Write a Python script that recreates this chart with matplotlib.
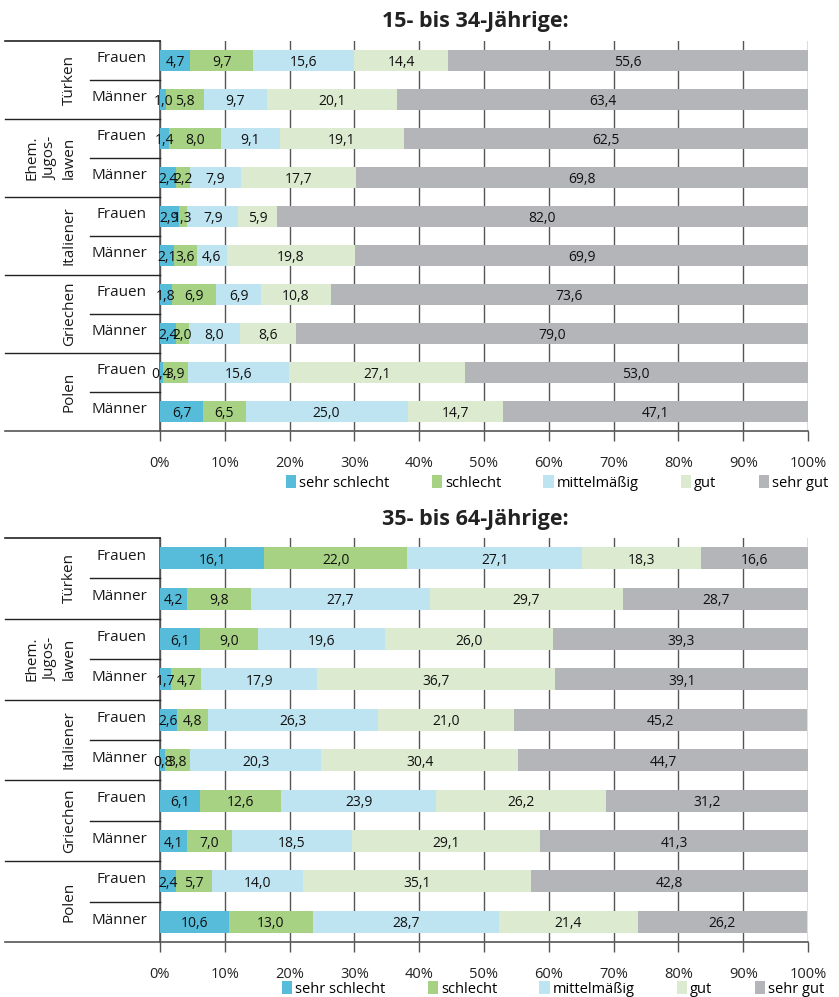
import matplotlib
matplotlib.use("Agg")
import matplotlib.pyplot as plt
import numpy as np
from matplotlib.patches import Patch
from matplotlib.lines import Line2D
from matplotlib.transforms import blended_transform_factory

plt.rcParams['font.family'] = ['Open Sans', 'DejaVu Sans']

groups = ["Türken", "Ehem.\nJugos-\nlawen", "Italiener", "Griechen", "Polen"]
sexes = ["Frauen", "Männer"]
categories = ["sehr schlecht", "schlecht", "mittelmäßig", "gut", "sehr gut"]
colors = ["#56BCD9", "#A8D283", "#BEE3F1", "#DCEBD0", "#B4B5B8"]

# rows: Türken F, Türken M, Jugo F, Jugo M, Ital F, Ital M, Griech F, Griech M, Polen F, Polen M
young = {
    "sehr schlecht": [4.7, 1.0, 1.4, 2.4, 2.9, 2.1, 1.8, 2.4, 0.4, 6.7],
    "schlecht":      [9.7, 5.8, 8.0, 2.2, 1.3, 3.6, 6.9, 2.0, 3.9, 6.5],
    "mittelmäßig":   [15.6, 9.7, 9.1, 7.9, 7.9, 4.6, 6.9, 8.0, 15.6, 25.0],
    "gut":           [14.4, 20.1, 19.1, 17.7, 5.9, 19.8, 10.8, 8.6, 27.1, 14.7],
    "sehr gut":      [55.6, 63.4, 62.5, 69.8, 82.0, 69.9, 73.6, 79.0, 53.0, 47.1],
}
old = {
    "sehr schlecht": [16.1, 4.2, 6.1, 1.7, 2.6, 0.8, 6.1, 4.1, 2.4, 10.6],
    "schlecht":      [22.0, 9.8, 9.0, 4.7, 4.8, 3.8, 12.6, 7.0, 5.7, 13.0],
    "mittelmäßig":   [27.1, 27.7, 19.6, 17.9, 26.3, 20.3, 23.9, 18.5, 14.0, 28.7],
    "gut":           [18.3, 29.7, 26.0, 36.7, 21.0, 30.4, 26.2, 29.1, 35.1, 21.4],
    "sehr gut":      [16.6, 28.7, 39.3, 39.1, 45.2, 44.7, 31.2, 41.3, 42.8, 26.2],
}
titles = ["15- bis 34-Jährige:", "35- bis 64-Jährige:"]
xticks = np.arange(0, 101, 10)
xticklabels = [f"{v}%" for v in xticks]

W, H = 839, 997
fig = plt.figure(figsize=(W / 100, H / 100), dpi=100)

panels = [
    dict(data=young, top=41, bottom=431, title_y=21, legend_y=483, legend_x=557),
    dict(data=old, top=538, bottom=942, title_y=519, legend_y=989, legend_x=553),
]
left_px, right_px = 160, 808
gridc = "#555555"
nrows = 10
rows = np.arange(nrows)

for p, title in zip(panels, titles):
    ax = fig.add_axes([left_px / W, 1 - p["bottom"] / H, (right_px - left_px) / W,
                       (p["bottom"] - p["top"]) / H])
    left = np.zeros(nrows)
    for cat, col in zip(categories, colors):
        vals = np.array(p["data"][cat])
        ax.barh(rows, vals, left=left, height=0.54, color=col, zorder=3)
        for r, (v, l) in enumerate(zip(vals, left)):
            ax.text(l + v / 2, r + 0.05, f"{v:.1f}".replace(".", ","), ha="center",
                    va="center", fontsize=10, color="#111111", zorder=5)
        left += vals
    ax.set_xlim(0, 100)
    ax.set_ylim(nrows - 0.5, -0.5)
    ax.set_yticks([])
    ax.set_xticks(xticks)
    ax.set_xticklabels(xticklabels, fontsize=10.5, color="#222222")
    ax.tick_params(axis="x", direction="out", length=7, width=1, color=gridc, pad=11)
    ax.grid(axis="x", color=gridc, linewidth=1, zorder=0)
    ax.set_axisbelow(True)
    for s in ["top", "right"]:
        ax.spines[s].set_visible(False)
    ax.spines["left"].set_color(gridc)
    ax.spines["bottom"].set_color(gridc)
    ax.spines["left"].set_linewidth(1.2)
    ax.spines["bottom"].set_linewidth(1.2)

    tr = blended_transform_factory(fig.transFigure, ax.transData)
    # left-margin lines
    fig.add_artist(Line2D([5 / W, left_px / W], [-0.5, -0.5], transform=tr, color="#222222", lw=1.2))
    fig.add_artist(Line2D([5 / W, left_px / W], [nrows - 0.5, nrows - 0.5], transform=tr, color=gridc, lw=1.2))
    for g in range(len(groups)):
        if g > 0:
            yb = 2 * g - 0.5
            fig.add_artist(Line2D([5 / W, left_px / W], [yb, yb], transform=tr, color="#222222", lw=1))
        ys = 2 * g + 0.5
        fig.add_artist(Line2D([90 / W, left_px / W], [ys, ys], transform=tr, color="#222222", lw=1))
        fig.text(77 / W, 2 * g + 0.5, groups[g], transform=tr, rotation=90, ha="right",
                 va="center", multialignment="center", linespacing=1.35, fontsize=11,
                 color="#1a1a1a")
        for k, sx in enumerate(sexes):
            fig.text(147 / W, 2 * g + k - 0.04, sx, transform=tr, ha="right", va="center",
                     fontsize=11, color="#1a1a1a")

    fig.text(475 / W, 1 - p["title_y"] / H, title, ha="center", va="center",
             fontsize=15.5, fontweight="bold", color="#222222")

    handles = [Patch(facecolor=c, edgecolor="none") for c in colors]
    fig.legend(handles, categories, loc="center", ncol=5,
               bbox_to_anchor=(p["legend_x"] / W, 1 - p["legend_y"] / H),
               frameon=False, fontsize=10.5, handlelength=0.7, handleheight=0.9,
               handletextpad=0.2, columnspacing=2.9, borderpad=0, borderaxespad=0)

fig.savefig("out.png", dpi=100)
